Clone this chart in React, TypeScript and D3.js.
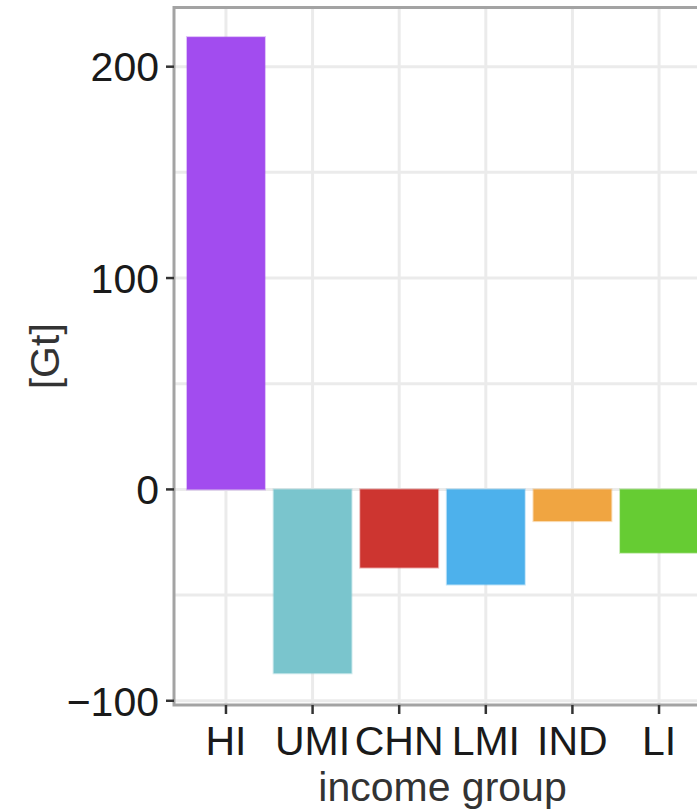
import React from "react";
import * as d3 from "d3";

const WIDTH = 697;
const HEIGHT = 811;

const categories = ["HI", "UMI", "CHN", "LMI", "IND", "LI"];
const values = [214, -87, -37, -45, -15, -30];
const colors = ["#a24cef", "#7ac5cd", "#cd3530", "#4db1ec", "#f0a541", "#66cc33"];
const yTicks = [-100, 0, 100, 200];
const yMinor = [-50, 50, 150];

const margin = { top: 7.5, right: -14, bottom: 106, left: 174 };
const FONT = "'Liberation Sans', Arial, sans-serif";
const FS = 41;

export default function App() {
  const x = d3
    .scaleBand<string>()
    .domain(categories)
    .range([margin.left, WIDTH - margin.right])
    .paddingInner(0.1)
    .paddingOuter(0.15);

  const y = d3
    .scaleLinear()
    .domain([-102, 228])
    .range([HEIGHT - margin.bottom, margin.top]);

  const [x0, x1] = x.range();
  const [yb, yt] = y.range();

  return (
    <svg
      width={WIDTH}
      height={HEIGHT}
      style={{ position: "absolute", top: 0, left: 0, background: "#fff" }}
      fontFamily={FONT}
    >
      {/* grid */}
      <g stroke="#ebebeb" strokeWidth={3}>
        {yMinor.concat(yTicks).map((t) => (
          <line key={"h" + t} x1={x0} x2={x1} y1={y(t)} y2={y(t)} />
        ))}
        {categories.map((c) => {
          const cx = x(c)! + x.bandwidth() / 2;
          return <line key={"v" + c} x1={cx} x2={cx} y1={yt} y2={yb} />;
        })}
      </g>

      {/* bars */}
      <g>
        {categories.map((c, i) => (
          <rect
            key={c}
            x={x(c)!}
            width={x.bandwidth()}
            y={y(Math.max(0, values[i]))}
            height={Math.abs(y(values[i]) - y(0))}
            fill={colors[i]}
            stroke={colors[i]}
            strokeOpacity={0.35}
            strokeWidth={2}
          />
        ))}
      </g>

      {/* panel border */}
      <rect
        x={x0}
        y={yt}
        width={x1 - x0}
        height={yb - yt}
        fill="none"
        stroke="#a3a3a3"
        strokeWidth={3}
      />

      {/* y axis */}
      <g fontSize={FS} fill="#1a1a1a" textAnchor="end">
        {yTicks.map((t) => (
          <g key={t}>
            <line x1={x0 - 8} x2={x0} y1={y(t)} y2={y(t)} stroke="#333" strokeWidth={2.5} />
            <text x={x0 - 15} y={y(t)} dy="0.36em">
              {t < 0 ? "\u2212" + Math.abs(t) : t}
            </text>
          </g>
        ))}
      </g>

      {/* x axis */}
      <g fontSize={FS} fill="#1a1a1a" textAnchor="middle">
        {categories.map((c) => {
          const cx = x(c)! + x.bandwidth() / 2;
          return (
            <g key={c}>
              <line x1={cx} x2={cx} y1={yb} y2={yb + 9} stroke="#333" strokeWidth={2.5} />
              <text x={cx} y={yb + 50}>
                {c}
              </text>
            </g>
          );
        })}
      </g>

      <text
        x={(x0 + 711) / 2}
        y={HEIGHT - 10}
        fontSize={FS}
        fill="#333"
        textAnchor="middle"
      >
        income group
      </text>

      <text
        transform={`translate(59, ${(yt + yb) / 2}) rotate(-90)`}
        fontSize={FS}
        fill="#333"
        textAnchor="middle"
      >
        [Gt]
      </text>
    </svg>
  );
}
